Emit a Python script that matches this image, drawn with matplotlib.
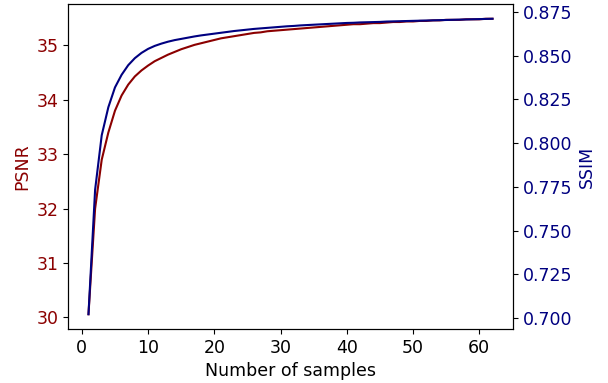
import matplotlib
matplotlib.use('Agg')
import matplotlib.pyplot as plt
import numpy as np

# values
num_samples = np.arange(1, 63)

psnr = [30.06, 32.00, 32.90, 33.40, 33.80, 34.08, 34.28, 34.43, 34.54, 34.63,
        34.71, 34.77, 34.83, 34.88, 34.93, 34.97, 35.01, 35.04, 35.07, 35.10,
        35.13, 35.15, 35.17, 35.19, 35.21, 35.23, 35.24, 35.26, 35.27, 35.28,
        35.29, 35.30, 35.31, 35.32, 35.33, 35.34, 35.35, 35.36, 35.37, 35.38,
        35.39, 35.39, 35.40, 35.41, 35.41, 35.42, 35.43, 35.43, 35.44, 35.44,
        35.45, 35.45, 35.46, 35.46, 35.47, 35.47, 35.47, 35.48, 35.48, 35.48,
        35.49, 35.49]

ssim = [0.7023, 0.7733, 0.8045, 0.8205, 0.8318, 0.8390, 0.8445, 0.8485, 0.8515, 0.8538,
        0.8555, 0.8568, 0.8579, 0.8588, 0.8595, 0.8602, 0.8609, 0.8615, 0.8620, 0.8625,
        0.8630, 0.8635, 0.8640, 0.8644, 0.8648, 0.8652, 0.8655, 0.8658, 0.8661, 0.8664,
        0.8667, 0.8669, 0.8672, 0.8674, 0.8676, 0.8678, 0.8680, 0.8682, 0.8684, 0.8686,
        0.8687, 0.8689, 0.8690, 0.8691, 0.8692, 0.8694, 0.8695, 0.8696, 0.8697, 0.8698,
        0.8699, 0.8700, 0.8701, 0.8702, 0.8703, 0.8704, 0.8705, 0.8706, 0.8707, 0.8708,
        0.8709, 0.8710]

psnr_color = 'darkred'
ssim_color = 'navy'

plt.rcParams['font.size'] = 12.5

fig, ax1 = plt.subplots(figsize=(6.08, 3.83), dpi=100)
fig.subplots_adjust(left=0.1123, right=0.8433, top=0.9896, bottom=0.141)

ax1.plot(num_samples, psnr, color=psnr_color, linewidth=1.5)
ax1.set_xlabel('Number of samples')
ax1.set_ylabel('PSNR', color=psnr_color)
ax1.tick_params(axis='y', labelcolor=psnr_color)

ax2 = ax1.twinx()
ax2.plot(num_samples, ssim, color=ssim_color, linewidth=1.5)
ax2.set_ylabel('SSIM', color=ssim_color)
ax2.tick_params(axis='y', labelcolor=ssim_color)

plt.savefig('out.png')
plt.close()
